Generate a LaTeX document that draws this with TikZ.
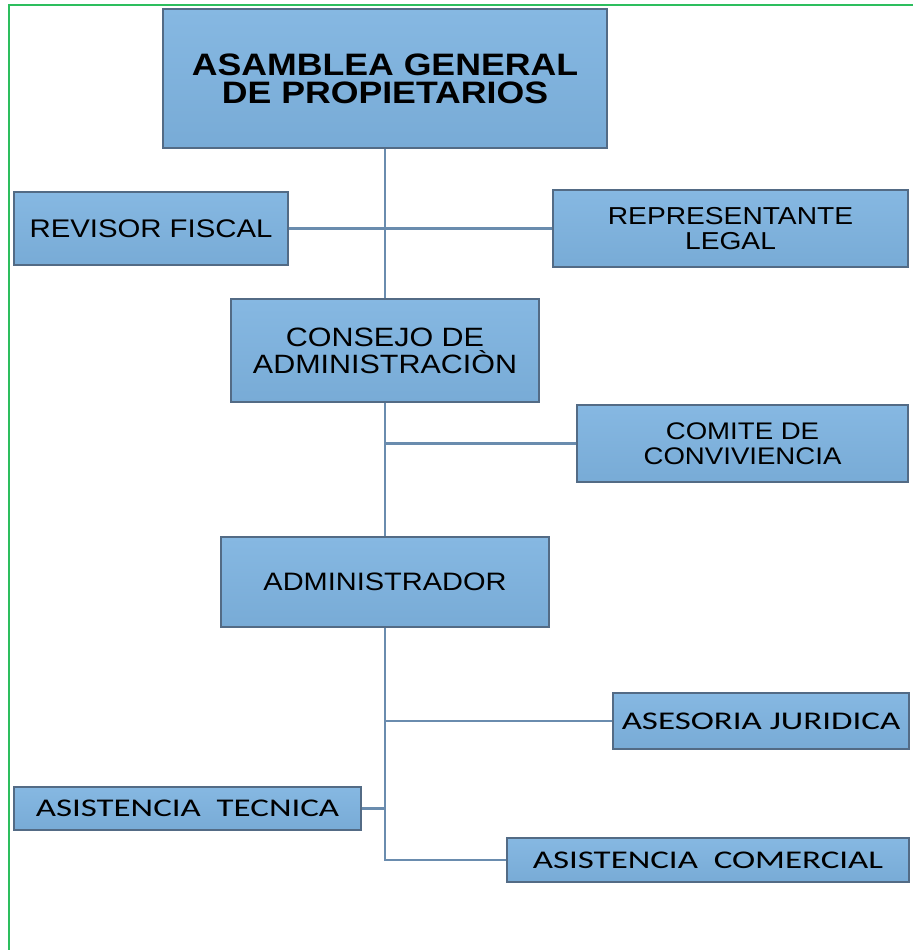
\documentclass[tikz,border=0pt]{standalone}
\usepackage{fontspec}
\usepackage{tikz}
\usetikzlibrary{positioning}
\newfontfamily\arialw[FakeStretch=1.15]{Liberation Sans}
\newfontfamily\calw[FakeStretch=1.37]{Carlito}
\definecolor{boxtop}{HTML}{86B8E2}
\definecolor{boxbot}{HTML}{78ABD6}
\definecolor{boxline}{HTML}{536B85}
\definecolor{linkcol}{HTML}{6A8CAE}
\definecolor{framegreen}{HTML}{2DBE5E}
\tikzset{
  orgbox/.style={draw=boxline, line width=1.4pt, top color=boxtop, bottom color=boxbot,
    inner sep=0pt, align=center, text=black, font=\arialw\fontsize{24.5}{25}\selectfont},
  calbox/.style={orgbox, font=\calw\fontsize{25.5}{28}\selectfont},
  link/.style={draw=linkcol, line width=2.8pt}
}
\begin{document}
\begin{tikzpicture}[x=1pt,y=-1pt]
\useasboundingbox (0,0) rectangle (913,950);
% frame
\draw[framegreen, line width=2pt] (8.5,950) -- (8.5,5.5) -- (913,5.5);

% boxes
\node[orgbox, minimum width=444pt, minimum height=139pt,
  font=\arialw\bfseries\fontsize{31}{28}\selectfont] (asamblea) at (385,78.5)
  {ASAMBLEA GENERAL\\DE PROPIETARIOS};
\node[orgbox, minimum width=274pt, minimum height=73pt,
  font=\arialw\fontsize{25.5}{26}\selectfont] (revisor) at (151,228.5) {REVISOR FISCAL};
\node[orgbox, minimum width=355pt, minimum height=77pt] (representante) at (730.5,228.5) {REPRESENTANTE\\LEGAL};
\node[orgbox, minimum width=308pt, minimum height=103pt,
  font=\arialw\fontsize{26.5}{27}\selectfont] (consejo) at (385,350.5) {CONSEJO DE\\ADMINISTRACIÒN};
\node[orgbox, minimum width=331pt, minimum height=77pt,
  font=\arialw\fontsize{24}{25}\selectfont] (comite) at (742.5,443.5) {COMITE DE\\CONVIVIENCIA};
\node[orgbox, minimum width=328pt, minimum height=90pt,
  font=\arialw\fontsize{25.2}{26}\selectfont] (admin) at (385,582) {ADMINISTRADOR};
\node[calbox, minimum width=296pt, minimum height=56pt] (asesoria) at (761,721) {ASESORIA JURIDICA};
\node[calbox, minimum width=347pt, minimum height=43pt] (tecnica) at (187.5,808.5) {ASISTENCIA\ \ TECNICA};
\node[calbox, minimum width=402pt, minimum height=44pt] (comercial) at (708,860) {ASISTENCIA\ \ COMERCIAL};

% connectors
\coordinate (trunkend) at (admin.south |- comercial.west);
\draw[link] (asamblea.south) -- (consejo.north);
\draw[link] (revisor.east) -- (representante.west);
\draw[link] (consejo.south) -- (admin.north);
\draw[link] (consejo.south |- comite.west) -- (comite.west);
\draw[link] (admin.south) -- (trunkend) -- (comercial.west);
\draw[link] (admin.south |- asesoria.west) -- (asesoria.west);
\draw[link] (tecnica.east) -- (tecnica.east -| admin.south);
\end{tikzpicture}
\end{document}
